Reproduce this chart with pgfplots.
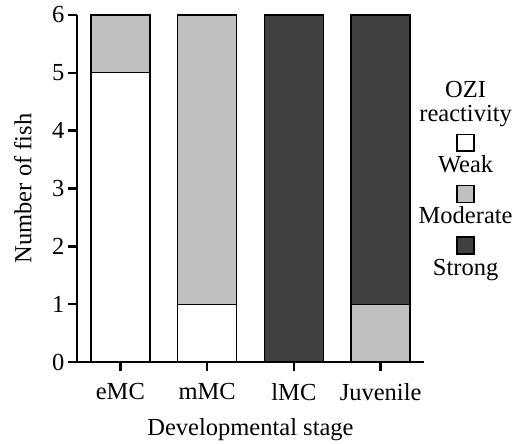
\documentclass[border=0pt]{standalone}
\usepackage{fontspec}
\setmainfont{Liberation Serif}
\usepackage{pgfplots}
\pgfplotsset{compat=1.18}

\definecolor{moderate}{RGB}{192,192,192}
\definecolor{strong}{RGB}{64,64,64}
\newcommand{\bigfont}{\fontsize{24.5}{22}\selectfont}
% small filled square used in the legend entries
\newcommand{\swatch}[1]{{\setlength{\fboxsep}{0pt}\setlength{\fboxrule}{1.4pt}%
  \fcolorbox{black}{#1}{\rule{0pt}{15.5pt}\rule{15.5pt}{0pt}}}}

\begin{document}
\begin{tikzpicture}
\begin{axis}[
    scale only axis, width=347pt, height=347pt,
    ybar stacked, bar width=59pt,
    xmin=-0.5, xmax=3.5, ymin=0, ymax=6,
    xtick={0,1,2,3},
    xticklabels={eMC,mMC,lMC,Juvenile},
    ytick={0,1,...,6},
    axis x line*=bottom, axis y line*=left,
    axis line style={line width=2.5pt},
    tick align=outside, major tick length=9pt,
    tick style={line width=2.5pt, black},
    tick label style={font=\bigfont},
    xticklabel style={yshift=-9pt},
    label style={font=\bigfont},
    /pgf/number format/assume math mode=true,
    xlabel={Developmental stage},
    ylabel={Number of fish},
    xlabel style={at={(axis description cs:0.5,-0.196)}, anchor=center},
    ylabel style={at={(axis description cs:-0.156,0.5)}, anchor=center},
    legend cell align=center,
    legend style={at={(axis description cs:1.12,0.528)}, anchor=center,
      draw=none, fill=none, font=\bigfont, row sep=7pt, inner sep=0pt,
      cells={align=center}},
    ]
\addlegendimage{empty legend}
\addlegendentry{OZI\\[2pt]reactivity}
\addplot[fill=white, draw=black, line width=1.3pt, legend image code/.code={}]
  coordinates {(0,5) (1,1) (2,0) (3,0)};
\addlegendentry{\swatch{white}\\Weak}
\addplot[fill=moderate, draw=black, line width=1.3pt, legend image code/.code={}]
  coordinates {(0,1) (1,5) (2,0) (3,1)};
\addlegendentry{\swatch{moderate}\\Moderate}
\addplot[fill=strong, draw=black, line width=1.3pt, legend image code/.code={}]
  coordinates {(0,0) (1,0) (2,6) (3,5)};
\addlegendentry{\swatch{strong}\\Strong}
\coordinate (bbl) at (rel axis cs:-0.2219,-0.2363);
\coordinate (btr) at (rel axis cs:1.2853,1.0432);
\end{axis}
\pgfresetboundingbox
\path (bbl) rectangle (btr);
\end{tikzpicture}
\end{document}
